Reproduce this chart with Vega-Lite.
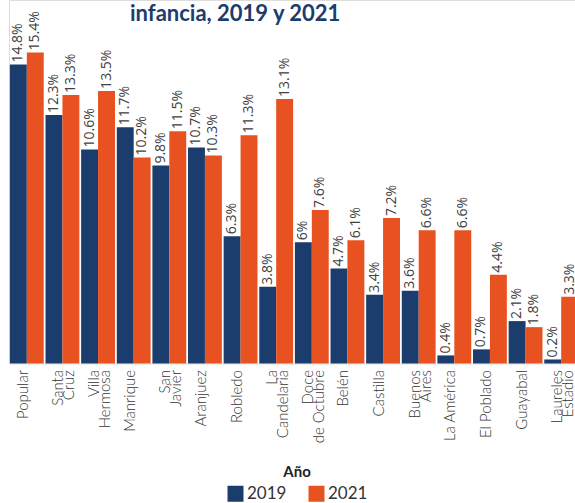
{
  "$schema": "https://vega.github.io/schema/vega-lite/v6.json",
  "autosize": {"type": "none"},
  "width": 570,
  "height": 363.5,
  "padding": {"left": 9, "top": 0, "right": 0, "bottom": 139.5},
  "background": "white",
  "title": {
    "text": "infancia, 2019 y 2021",
    "anchor": "start",
    "frame": "group",
    "font": "Lato",
    "fontWeight": "bold",
    "fontSize": 22,
    "color": "#1b3d6d",
    "baseline": "alphabetic",
    "offset": 0,
    "dx": 121,
    "dy": 43
  },
  "data": {
    "values": [
      {"zona": "Popular", "anio": "2019", "valor": 14.8},
      {"zona": "Popular", "anio": "2021", "valor": 15.4},
      {"zona": "Santa Cruz", "anio": "2019", "valor": 12.3},
      {"zona": "Santa Cruz", "anio": "2021", "valor": 13.3},
      {"zona": "Villa Hermosa", "anio": "2019", "valor": 10.6},
      {"zona": "Villa Hermosa", "anio": "2021", "valor": 13.5},
      {"zona": "Manrique", "anio": "2019", "valor": 11.7},
      {"zona": "Manrique", "anio": "2021", "valor": 10.2},
      {"zona": "San Javier", "anio": "2019", "valor": 9.8},
      {"zona": "San Javier", "anio": "2021", "valor": 11.5},
      {"zona": "Aranjuez", "anio": "2019", "valor": 10.7},
      {"zona": "Aranjuez", "anio": "2021", "valor": 10.3},
      {"zona": "Robledo", "anio": "2019", "valor": 6.3},
      {"zona": "Robledo", "anio": "2021", "valor": 11.3},
      {"zona": "La Candelaria", "anio": "2019", "valor": 3.8},
      {"zona": "La Candelaria", "anio": "2021", "valor": 13.1},
      {"zona": "Doce de Octubre", "anio": "2019", "valor": 6},
      {"zona": "Doce de Octubre", "anio": "2021", "valor": 7.6},
      {"zona": "Belén", "anio": "2019", "valor": 4.7},
      {"zona": "Belén", "anio": "2021", "valor": 6.1},
      {"zona": "Castilla", "anio": "2019", "valor": 3.4},
      {"zona": "Castilla", "anio": "2021", "valor": 7.2},
      {"zona": "Buenos Aires", "anio": "2019", "valor": 3.6},
      {"zona": "Buenos Aires", "anio": "2021", "valor": 6.6},
      {"zona": "La América", "anio": "2019", "valor": 0.4},
      {"zona": "La América", "anio": "2021", "valor": 6.6},
      {"zona": "El Poblado", "anio": "2019", "valor": 0.7},
      {"zona": "El Poblado", "anio": "2021", "valor": 4.4},
      {"zona": "Guayabal", "anio": "2019", "valor": 2.1},
      {"zona": "Guayabal", "anio": "2021", "valor": 1.8},
      {"zona": "Laureles Estadio", "anio": "2019", "valor": 0.2},
      {"zona": "Laureles Estadio", "anio": "2021", "valor": 3.3}
    ]
  },
  "transform": [
    {"calculate": "format(datum.valor, '.1~f') + '%'", "as": "etiqueta"}
  ],
  "encoding": {
    "x": {
      "field": "zona",
      "type": "nominal",
      "sort": null,
      "title": null,
      "scale": {"paddingInner": 0.05, "paddingOuter": 0.025},
      "axis": {
        "domain": false,
        "ticks": false,
        "labelAngle": -90,
        "labelAlign": "right",
        "labelBaseline": "middle",
        "labelPadding": 6,
        "labelOffset": -4,
        "labelFont": "Lato",
        "labelFontSize": 15,
        "labelFontWeight": 300,
        "labelColor": "#333333",
        "labelLineHeight": 11,
        "labelLimit": 200,
        "labelExpr": "indexof(['Santa Cruz','Villa Hermosa','San Javier','La Candelaria','Buenos Aires','Laureles Estadio'], datum.value) >= 0 ? split(datum.value, ' ') : (datum.value == 'Doce de Octubre' ? ['Doce', 'de Octubre'] : datum.value)"
      }
    },
    "xOffset": {"field": "anio", "type": "nominal", "scale": {"paddingInner": 0, "paddingOuter": 0}},
    "y": {
      "field": "valor",
      "type": "quantitative",
      "scale": {"domain": [0, 18], "nice": false},
      "axis": null
    }
  },
  "layer": [
    {
      "mark": {"type": "bar"},
      "encoding": {
        "color": {
          "field": "anio",
          "type": "nominal",
          "scale": {"domain": ["2019", "2021"], "range": ["#1b3d6d", "#e85221"]},
          "legend": {
            "title": "Año",
            "orient": "none",
            "legendX": 218,
            "legendY": 465,
            "padding": 0,
            "direction": "horizontal",
            "titleOrient": "top",
            "titleAnchor": "middle",
            "titleFont": "Lato",
            "titleFontSize": 15,
            "titleFontWeight": "bold",
            "titleColor": "#222222",
            "titlePadding": 5,
            "labelFont": "Lato",
            "labelFontSize": 17,
            "labelColor": "#333333",
            "labelOffset": 3,
            "symbolType": "square",
            "symbolSize": 256,
            "symbolStrokeWidth": 0,
            "symbolOpacity": 1,
            "columnPadding": 21
          }
        }
      }
    },
    {
      "mark": {
        "type": "text",
        "angle": -90,
        "align": "left",
        "baseline": "middle",
        "dx": 2,
        "font": "Open Sans",
        "fontSize": 14,
        "color": "#404040"
      },
      "encoding": {
        "text": {"field": "etiqueta"}
      }
    }
  ]
}
